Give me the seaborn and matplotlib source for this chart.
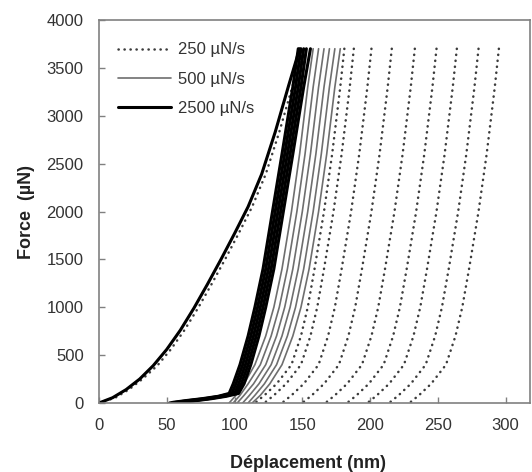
import matplotlib
matplotlib.use("Agg")
import matplotlib.pyplot as plt
import seaborn as sns

# loading branch (shared by all tests), displacement nm / force uN
load_h = [0, 10, 20, 30, 40, 50, 60, 70, 80, 90, 100, 110, 120, 130, 140, 148]
load_F = [0, 55, 140, 250, 390, 560, 760, 990, 1240, 1500, 1770, 2050, 2390, 2830, 3320, 3700]
load_h_250 = [0, 12, 22, 32, 43, 53, 63, 73, 83, 93, 103, 113, 123, 133, 143, 151]

# unloading branches: displacement read at these force levels
unload_F = [3700, 3300, 2600, 2000, 1400, 1000, 700, 400, 200, 80, 0]

unload_250 = [
    [181, 178, 172, 166, 159, 154, 149, 142, 131, 122, 115],
    [188, 185, 179, 173, 166, 161, 156, 149, 138, 129, 122],
    [201, 198, 192, 186, 179, 174, 169, 162, 151, 142, 135],
    [216, 213, 207, 201, 194, 189, 184, 177, 166, 157, 150],
    [233, 230, 224, 218, 211, 206, 201, 194, 183, 174, 167],
    [249, 246, 240, 234, 227, 222, 217, 210, 199, 190, 183],
    [264, 261, 255, 249, 242, 237, 232, 225, 214, 205, 198],
    [280, 277, 271, 265, 258, 253, 248, 241, 230, 221, 214],
    [295, 292, 286, 280, 273, 268, 263, 256, 245, 236, 229],
]

unload_500 = [
    [158, 154, 148, 142, 135, 129, 123, 115, 107, 101, 96],
    [162, 158, 152, 146, 139, 133, 127, 119, 110, 104, 99],
    [166, 162, 156, 150, 143, 137, 131, 123, 114, 107, 102],
    [170, 166, 160, 154, 147, 141, 135, 127, 118, 111, 106],
    [174, 170, 164, 158, 151, 145, 139, 131, 122, 115, 110],
    [178, 174, 168, 162, 155, 149, 143, 135, 126, 119, 113],
]

# fast tests end with a long tail near zero force
unload_F_2500 = [3700, 3300, 2600, 2000, 1400, 1000, 700, 400, 200, 100, 70, 45, 25, 8, 0]
unload_2500 = [
    [147, 143, 135, 128, 121, 115, 110, 104, 99, 96, 88, 76, 64, 55, 52],
    [149, 145, 137, 130, 123, 117, 112, 106, 101, 98, 89, 78, 66, 57, 54],
    [151, 147, 139, 132, 125, 119, 114, 108, 103, 100, 91, 80, 68, 59, 56],
    [153, 149, 141, 134, 127, 121, 116, 110, 105, 101, 92, 81, 70, 61, 58],
    [156, 151, 143, 136, 129, 123, 118, 112, 107, 103, 94, 83, 72, 63, 60],
]

labels = ["250 µN/s", "500 µN/s", "2500 µN/s"]

sns.set_style("ticks")
plt.rcParams["font.family"] = ["Liberation Sans", "DejaVu Sans"]

fig = plt.figure(figsize=(5.32, 4.72), dpi=100)
ax = fig.add_axes([0.1861, 0.1462, 0.8102, 0.8114])

dot = dict(color="#3c3c3c", lw=1.8, linestyle=(0, (0.1, 2.3)), dash_capstyle="round")
grey = dict(color="#6e6e6e", lw=1.2)
black = dict(color="black", lw=2.2)

# 250 uN/s
sns.lineplot(x=load_h_250, y=load_F, sort=False, ax=ax, label=labels[0], **dot)
for h in unload_250:
    sns.lineplot(x=h, y=unload_F, sort=False, ax=ax, **dot)

# 500 uN/s
sns.lineplot(x=load_h, y=load_F, sort=False, ax=ax, label=labels[1], **grey)
for h in unload_500:
    sns.lineplot(x=h, y=unload_F, sort=False, ax=ax, **grey)

# 2500 uN/s
sns.lineplot(x=load_h, y=load_F, sort=False, ax=ax, label=labels[2], **black)
for h in unload_2500:
    sns.lineplot(x=h, y=unload_F_2500, sort=False, ax=ax, **black)

ax.set_xlim(0, 318)
ax.set_ylim(0, 4000)
ax.set_xticks(range(0, 301, 50))
ax.set_yticks(range(0, 4001, 500))
ax.tick_params(direction="in", length=4, width=1, color="#808080",
               labelsize=12, labelcolor="#333333", pad=11)
for s in ax.spines.values():
    s.set_visible(True)
    s.set_color("#808080")
    s.set_linewidth(1.2)

ax.set_xlabel("Déplacement (nm)", fontsize=13, fontweight="bold", color="#222222")
ax.set_ylabel("Force  (µN)", fontsize=13, fontweight="bold", color="#222222")
ax.xaxis.set_label_coords(0.485, -0.136)
ax.yaxis.set_label_coords(-0.148, 0.5)

ax.legend(loc="upper left", bbox_to_anchor=(0.016, 0.972), frameon=False,
          fontsize=12, handlelength=3.2, handletextpad=0.45, labelspacing=0.85,
          borderaxespad=0.3, labelcolor="#333333")

fig.savefig("out.png", dpi=100)
